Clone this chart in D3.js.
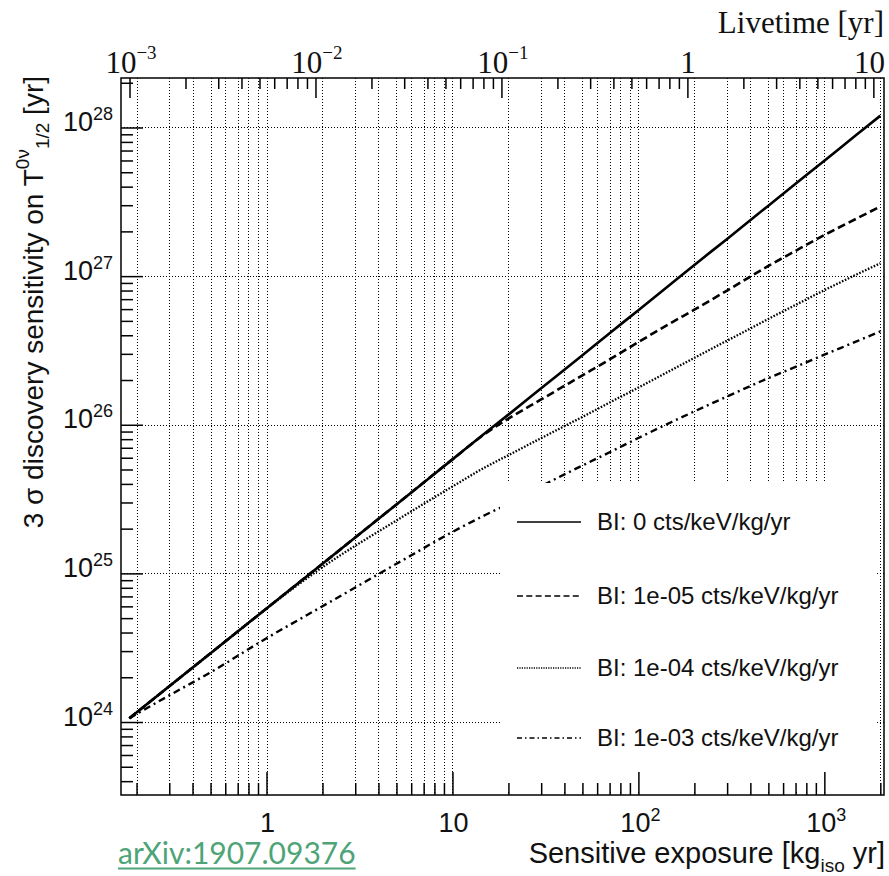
<!DOCTYPE html>
<html lang="en">
<head>
<meta charset="utf-8">
<title>Discovery sensitivity</title>
<script src="https://cdn.jsdelivr.net/npm/d3@7"></script>
<style>
  body { margin: 0; background: #fff; }
</style>
</head>
<body>
<div id="chart"></div>
<script>
// exposure grid [kg_iso yr] and sensitivities [yr]
var exposure = [0.183, 0.3, 0.5, 1, 2, 5, 10, 15, 20, 30, 50, 70, 100, 150, 200, 300, 500, 700, 1000, 1500, 2000];
var bi0    = [1.06e24, 1.74e24, 2.9e24, 5.8e24, 1.16e25, 2.91e25, 5.85e25, 8.8e25, 1.17e26, 1.76e26, 2.94e26, 4.13e26, 5.9e26, 8.88e26, 1.19e27, 1.78e27, 2.98e27, 4.18e27, 5.98e27, 9.0e27, 1.2e28];
var bi1e5  = [1.06e24, 1.74e24, 2.9e24, 5.8e24, 1.16e25, 2.91e25, 5.85e25, 8.7e25, 1.1e26, 1.48e26, 2.15e26, 2.75e26, 3.6e26, 4.85e26, 5.95e26, 8.0e26, 1.17e27, 1.48e27, 1.89e27, 2.45e27, 2.94e27];
var bi1e4  = [1.06e24, 1.74e24, 2.9e24, 5.8e24, 1.1e25, 2.27e25, 3.84e25, 5.18e25, 6.24e25, 8.13e25, 1.13e26, 1.41e26, 1.78e26, 2.33e26, 2.82e26, 3.68e26, 5.15e26, 6.4e26, 8.04e26, 1.03e27, 1.22e27];
var bi1e3  = [1.06e24, 1.51e24, 2.16e24, 3.66e24, 6.01e24, 1.16e25, 1.9e25, 2.47e25, 2.94e25, 3.86e25, 5.32e25, 6.53e25, 8.15e25, 1.04e26, 1.23e26, 1.55e26, 2.06e26, 2.45e26, 2.96e26, 3.65e26, 4.25e26];
var legendLabels = ["BI: 0 cts/keV/kg/yr", "BI: 1e-05 cts/keV/kg/yr", "BI: 1e-04 cts/keV/kg/yr", "BI: 1e-03 cts/keV/kg/yr"];

// tick labels
var bottomTicks = [1, 10, 100, 1000];
var bottomBase = ["1", "10", "10", "10"];
var bottomExp = ["", "", "2", "3"];
var leftTicks = [1e24, 1e25, 1e26, 1e27, 1e28];
var leftExp = ["24", "25", "26", "27", "28"];
var topTicks = [1e-3, 1e-2, 1e-1, 1, 10];
var topBase = ["10", "10", "10", "1", "10"];
var topExp = ["\u22123", "\u22122", "\u22121", "", ""];

var W = 889, H = 876;
var L = 121, R = 884, T = 78, B = 795;

var svg = d3.select("#chart").append("svg")
    .attr("width", W).attr("height", H)
    .style("font-family", "'Liberation Sans', Arial, sans-serif");

var x = d3.scaleLog().domain([0.165, 2093]).range([L, R]);
var xTop = d3.scaleLog().domain([9.0e-4, 11.41]).range([L, R]);
var y = d3.scaleLog().domain([3.228e23, 2.153e28]).range([B, T]);

function isMajor(v) {
    var l = Math.log10(v);
    return Math.abs(l - Math.round(l)) < 1e-6;
}

// grid: vertical at every bottom tick, horizontal at decades
var grid = svg.append("g").attr("stroke", "#000").attr("stroke-width", 1).attr("stroke-dasharray", "1,2");
grid.selectAll(".gx").data(x.ticks().filter(function(v) { return v > 0.166 && v < 2090; }))
    .enter().append("line")
    .attr("x1", function(d) { return Math.round(x(d)) + 0.5; })
    .attr("x2", function(d) { return Math.round(x(d)) + 0.5; })
    .attr("y1", T).attr("y2", B);
grid.selectAll(".gy").data(leftTicks)
    .enter().append("line")
    .attr("x1", L).attr("x2", R)
    .attr("y1", function(d) { return Math.round(y(d)) + 0.5; })
    .attr("y2", function(d) { return Math.round(y(d)) + 0.5; });

// curves
var series = [
    { vals: bi0, dash: null, w: 2.6, ldash: null },
    { vals: bi1e5, dash: "8,4", w: 2.6, ldash: "6,3.3" },
    { vals: bi1e4, dash: "1.6,1.6", w: 2.3, ldash: "1.2,1.2" },
    { vals: bi1e3, dash: "7,4,2,4", w: 2.4, ldash: "5,3,1.5,3" }
];

var line = d3.line()
    .x(function(d) { return x(d[0]); })
    .y(function(d) { return y(d[1]); })
    .curve(d3.curveMonotoneX);

svg.append("g").selectAll("path").data(series).enter().append("path")
    .attr("d", function(s) { return line(exposure.map(function(e, i) { return [e, s.vals[i]]; })); })
    .attr("fill", "none")
    .attr("stroke", "#000")
    .attr("stroke-width", function(s) { return s.w; })
    .attr("stroke-dasharray", function(s) { return s.dash; });

// legend (white box, no border)
var leg = svg.append("g");
leg.append("rect").attr("x", 500).attr("y", 483).attr("width", 377).attr("height", 309).attr("fill", "#fff");
var legY = [522, 596, 668, 738];
series.forEach(function(s, i) {
    leg.append("line")
        .attr("x1", 517).attr("x2", 581)
        .attr("y1", legY[i]).attr("y2", legY[i])
        .attr("stroke", "#000").attr("stroke-width", 1.7)
        .attr("stroke-dasharray", s.ldash);
    leg.append("text")
        .attr("x", 597).attr("y", legY[i] + 8)
        .attr("font-size", 24).attr("fill", "#111")
        .text(legendLabels[i]);
});

// axes ticks
function styleTicks(g) {
    g.select(".domain").remove();
    g.selectAll("line").attr("stroke", "#000").attr("stroke-width", 1.5);
    g.selectAll("text").remove();
}
var xt = x.ticks().filter(function(v) { return v > 0.166 && v < 2090; });
svg.append("g").attr("transform", "translate(0," + B + ")")
    .call(d3.axisBottom(x).tickValues(xt.filter(function(v) { return !isMajor(v); })).tickSizeInner(-12).tickSizeOuter(0))
    .call(styleTicks);
svg.append("g").attr("transform", "translate(0," + B + ")")
    .call(d3.axisBottom(x).tickValues(xt.filter(isMajor)).tickSizeInner(-23).tickSizeOuter(0))
    .call(styleTicks);

var yt = y.ticks().filter(function(v) { return v > 3.3e23 && v < 2.15e28; });
svg.append("g").attr("transform", "translate(" + L + ",0)")
    .call(d3.axisLeft(y).tickValues(yt.filter(function(v) { return !isMajor(v); })).tickSizeInner(-12).tickSizeOuter(0))
    .call(styleTicks);
svg.append("g").attr("transform", "translate(" + L + ",0)")
    .call(d3.axisLeft(y).tickValues(yt.filter(isMajor)).tickSizeInner(-22).tickSizeOuter(0))
    .call(styleTicks);

var tt = xTop.ticks().filter(function(v) { return v > 9.5e-4 && v < 11.4; });
svg.append("g").attr("transform", "translate(0," + T + ")")
    .call(d3.axisTop(xTop).tickValues(tt.filter(function(v) { return !isMajor(v); })).tickSizeInner(-11).tickSizeOuter(0))
    .call(styleTicks);
svg.append("g").attr("transform", "translate(0," + T + ")")
    .call(d3.axisTop(xTop).tickValues(tt.filter(isMajor)).tickSizeInner(-20).tickSizeOuter(0))
    .call(styleTicks);

// frame
svg.append("rect").attr("x", L).attr("y", T).attr("width", R - L).attr("height", B - T)
    .attr("fill", "none").attr("stroke", "#000").attr("stroke-width", 1.5);

// tick labels
function powLabel(g, base, exp, size, supSize, rise) {
    g.append("tspan").text(base);
    if (exp) g.append("tspan").attr("font-size", supSize).attr("dy", -rise).text(exp);
}
bottomTicks.forEach(function(v, i) {
    var t = svg.append("text").attr("x", x(v) + (bottomExp[i] ? 2 : 1)).attr("y", 832)
        .attr("text-anchor", "middle").attr("font-size", 27).attr("fill", "#111");
    powLabel(t, bottomBase[i], bottomExp[i], 18, 18, 11);
});
leftTicks.forEach(function(v, i) {
    var t = svg.append("text").attr("x", 113).attr("y", y(v) + 3.5)
        .attr("text-anchor", "end").attr("font-size", 27).attr("fill", "#111");
    powLabel(t, "10", leftExp[i], 18, 18, 11);
});
topTicks.forEach(function(v, i) {
    var t = svg.append("text").attr("y", 73)
        .attr("font-family", "'Liberation Serif', 'Times New Roman', serif")
        .attr("font-size", 31).attr("fill", "#111");
    if (i === topTicks.length - 1) t.attr("x", 885).attr("text-anchor", "end");
    else t.attr("x", xTop(v) + (topExp[i] ? 1.5 : 0.5)).attr("text-anchor", "middle");
    powLabel(t, topBase[i], topExp[i], 31, 19, 14);
});

// axis titles
svg.append("text").attr("x", 884).attr("y", 33).attr("text-anchor", "end")
    .attr("font-family", "'Liberation Serif', 'Times New Roman', serif")
    .attr("font-size", 31).attr("fill", "#111").text("Livetime [yr]");

var bt = svg.append("text").attr("x", 885).attr("y", 863).attr("text-anchor", "end")
    .attr("font-size", 29).attr("fill", "#111");
bt.append("tspan").text("Sensitive exposure [kg");
bt.append("tspan").attr("font-size", 19).attr("dy", 9).text("iso");
bt.append("tspan").attr("dy", -9).text(" yr]");

var yt2 = svg.append("text").attr("transform", "translate(43,76) rotate(-90)")
    .attr("text-anchor", "end").attr("font-size", 28).attr("fill", "#111");
yt2.append("tspan").text("3 \u03c3 discovery sensitivity on T");
yt2.append("tspan").attr("font-size", 19).attr("dy", -14).text("0\u03bd");
yt2.append("tspan").attr("font-size", 19).attr("dy", 20).text("1/2");
yt2.append("tspan").attr("dy", -6).text(" [yr]");

// source link, underlined to the text's own width
var src = svg.append("text").attr("x", 118).attr("y", 864)
    .attr("font-family", "Lato, 'Open Sans', sans-serif")
    .attr("font-size", 30).attr("fill", "#4ea477")
    .text("arXiv:1907.09376");
var srcLen = src.node().getComputedTextLength();
svg.append("line").attr("x1", 118).attr("x2", 118 + srcLen).attr("y1", 868.5).attr("y2", 868.5)
    .attr("stroke", "#4ea477").attr("stroke-width", 2);
</script>
</body>
</html>
